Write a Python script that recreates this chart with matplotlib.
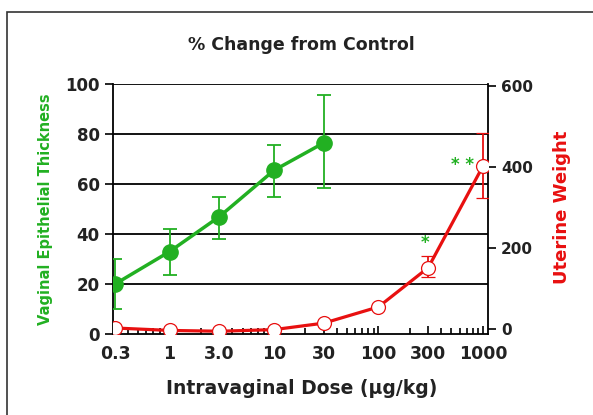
import matplotlib
matplotlib.use('Agg')
import matplotlib.pyplot as plt
from matplotlib.patches import Rectangle
from matplotlib.ticker import FixedLocator, NullFormatter, LogLocator

plt.rcParams['font.family'] = ['DejaVu Sans']

# Data
dose_vag = [0.3, 1, 3, 10, 30]
vag_thick = [20, 33, 47, 65.5, 76.5]
vag_err_lo = [10, 9.5, 9, 10.5, 18]
vag_err_hi = [10, 9, 8, 10, 19]

dose_ut = [0.3, 1, 3, 10, 30, 100, 300, 1000]
ut_weight = [3, -3, -5, -1, 15, 55, 152, 402]
ut_err_lo = [0, 0, 0, 0, 0, 0, 24, 78]
ut_err_hi = [0, 0, 0, 0, 0, 0, 28, 83]

xticks = [0.3, 1, 3, 10, 30, 100, 300, 1000]
xticklabels = ['0.3', '1', '3.0', '10', '30', '100', '300', '1000']

GREEN = '#22b022'
RED = '#e81010'

fig = plt.figure(figsize=(5.93, 4.15), dpi=100)
ax = fig.add_axes([0.1906, 0.195, 0.632, 0.6024])
ax2 = ax.twinx()

# outer frame
fig.patches.append(Rectangle((7 / 593, -0.02), 1.05, 1 - 12 / 415 + 0.02,
                             transform=fig.transFigure, fill=False,
                             edgecolor='#333333', linewidth=1.2))

ax.set_xscale('log')
ax.set_xlim(0.287, 1116)
ax.set_ylim(0, 100)
ax2.set_ylim(-12, 605)

# gridlines
for y in [20, 40, 60, 80, 100]:
    ax.axhline(y, color='black', linewidth=1.3, zorder=1)

ax.errorbar(dose_vag, vag_thick, yerr=[vag_err_lo, vag_err_hi], color=GREEN,
            linewidth=2.5, marker='o', markersize=11, capsize=5,
            elinewidth=1.3, capthick=1.3, zorder=3)

ax2.errorbar(dose_ut, ut_weight, yerr=[ut_err_lo, ut_err_hi], color=RED,
             linewidth=2.3, marker='o', markersize=10, markerfacecolor='white',
             markeredgecolor=RED, markeredgewidth=0.9, capsize=5,
             elinewidth=1.3, capthick=1.3, zorder=3)

ax2.text(280, 212, '*', color=GREEN, fontsize=12, fontweight='bold',
         ha='center', va='center')
ax2.text(640, 405, '* *', color=GREEN, fontsize=12, fontweight='bold',
         ha='center', va='center')

# x axis ticks
ax.xaxis.set_major_locator(FixedLocator(xticks))
ax.set_xticklabels(xticklabels)
ax.xaxis.set_minor_locator(LogLocator(base=10, subs=range(2, 10)))
ax.xaxis.set_minor_formatter(NullFormatter())
ax.tick_params(axis='x', which='major', direction='in', length=6, width=1.2,
               labelsize=12.5, pad=8)
ax.tick_params(axis='x', which='minor', direction='in', length=4, width=1.2)
for lab in ax.get_xticklabels():
    lab.set_fontweight('bold')
    lab.set_color('#222222')

ax.set_yticks([0, 20, 40, 60, 80, 100])
ax.tick_params(axis='y', direction='out', length=6, width=1.2, labelsize=12)
for lab in ax.get_yticklabels():
    lab.set_fontweight('bold')
    lab.set_color('#222222')

ax2.set_yticks([0, 200, 400, 600])
ax2.tick_params(axis='y', direction='out', length=6, width=1.2, labelsize=11)
for lab in ax2.get_yticklabels():
    lab.set_fontweight('bold')
    lab.set_color('#222222')

for a in (ax, ax2):
    for s in a.spines.values():
        s.set_linewidth(1.3)
    a.spines['top'].set_visible(False)
ax.spines['right'].set_visible(False)
ax2.spines['left'].set_visible(False)
ax2.spines['bottom'].set_visible(False)

fig.text(0.509, 0.892, '% Change from Control', ha='center', va='center',
         fontsize=12.5, fontweight='bold', color='#222222')
fig.text(0.508, 0.065, 'Intravaginal Dose (µg/kg)', ha='center', va='center',
         fontsize=13.5, fontweight='bold', color='#222222')
fig.text(0.076, 0.495, 'Vaginal Epithelial Thickness', ha='center', va='center',
         rotation=90, fontsize=10.5, fontweight='bold', color=GREEN)
fig.text(0.948, 0.50, 'Uterine Weight', ha='center', va='center',
         rotation=90, fontsize=13, fontweight='bold', color=RED)

fig.savefig('out.png', dpi=100, facecolor='white')
